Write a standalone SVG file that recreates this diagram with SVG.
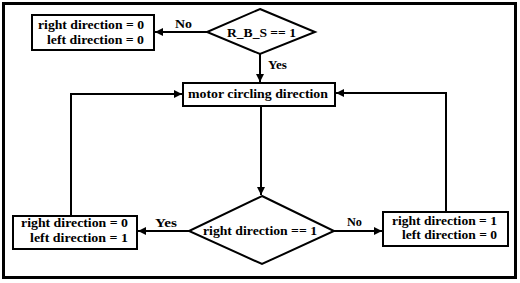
<svg xmlns="http://www.w3.org/2000/svg" width="520" height="283" viewBox="0 0 520 283">
<style>
text{font-family:"Liberation Serif","Times New Roman",serif;font-weight:bold;font-size:12.5px;fill:#000}
.box{fill:#fff;stroke:#000;stroke-width:2}
.line{fill:none;stroke:#000;stroke-width:2}
</style>
<defs>
<marker id="ah" viewBox="0 0 10 10" refX="10" refY="5" markerWidth="4" markerHeight="4" orient="auto" markerUnits="strokeWidth">
<path d="M0,0 L10,5 L0,10 z" fill="#000"/>
</marker>
</defs>
<rect x="0" y="0" width="520" height="283" fill="#fff"/>
<rect x="3.5" y="3.5" width="512" height="274" fill="none" stroke="#000" stroke-width="3"/>
<g id="connectors">
<path class="line" d="M207,32 H155" marker-end="url(#ah)"/>
<path class="line" d="M260,54 V82" marker-end="url(#ah)"/>
<path class="line" d="M261,106 V195" marker-end="url(#ah)"/>
<path class="line" d="M189,231 H138" marker-end="url(#ah)"/>
<path class="line" d="M334,231 H382" marker-end="url(#ah)"/>
<path class="line" d="M71,216 V94 H182" marker-end="url(#ah)"/>
<path class="line" d="M446,212 V93 H336" marker-end="url(#ah)"/>
<text x="175" y="28" textLength="17" lengthAdjust="spacingAndGlyphs">No</text>
<text x="268" y="69" textLength="19" lengthAdjust="spacingAndGlyphs">Yes</text>
<text x="155" y="227" textLength="22" lengthAdjust="spacingAndGlyphs">Yes</text>
<text x="347" y="226" textLength="15" lengthAdjust="spacingAndGlyphs">No</text>
</g>
<g id="n_stop">
<rect class="box" x="32" y="15" width="122" height="35"/>
<text x="38" y="29" textLength="106" lengthAdjust="spacingAndGlyphs">right direction = 0</text>
<text x="47" y="44" textLength="97" lengthAdjust="spacingAndGlyphs">left direction = 0</text>
</g>
<g id="n_rbs">
<polygon class="box" points="260,9 315,32 260,54 207,32"/>
<text x="227" y="37" textLength="69" lengthAdjust="spacingAndGlyphs">R_B_S == 1</text>
</g>
<g id="n_motor">
<rect class="box" x="183" y="83" width="152" height="23"/>
<text x="188" y="98" textLength="140" lengthAdjust="spacingAndGlyphs">motor circling direction</text>
</g>
<g id="n_dir">
<polygon class="box" points="262,196 334,231 262,264 189,231"/>
<text x="203" y="235" textLength="114" lengthAdjust="spacingAndGlyphs">right direction == 1</text>
</g>
<g id="n_left">
<rect class="box" x="13" y="216" width="124" height="33"/>
<text x="21" y="227" textLength="107" lengthAdjust="spacingAndGlyphs">right direction = 0</text>
<text x="30" y="242" textLength="98" lengthAdjust="spacingAndGlyphs">left direction = 1</text>
</g>
<g id="n_right">
<rect class="box" x="383" y="212" width="125" height="34"/>
<text x="392" y="225" textLength="105" lengthAdjust="spacingAndGlyphs">right direction = 1</text>
<text x="402" y="239" textLength="95" lengthAdjust="spacingAndGlyphs">left direction = 0</text>
</g>
</svg>
